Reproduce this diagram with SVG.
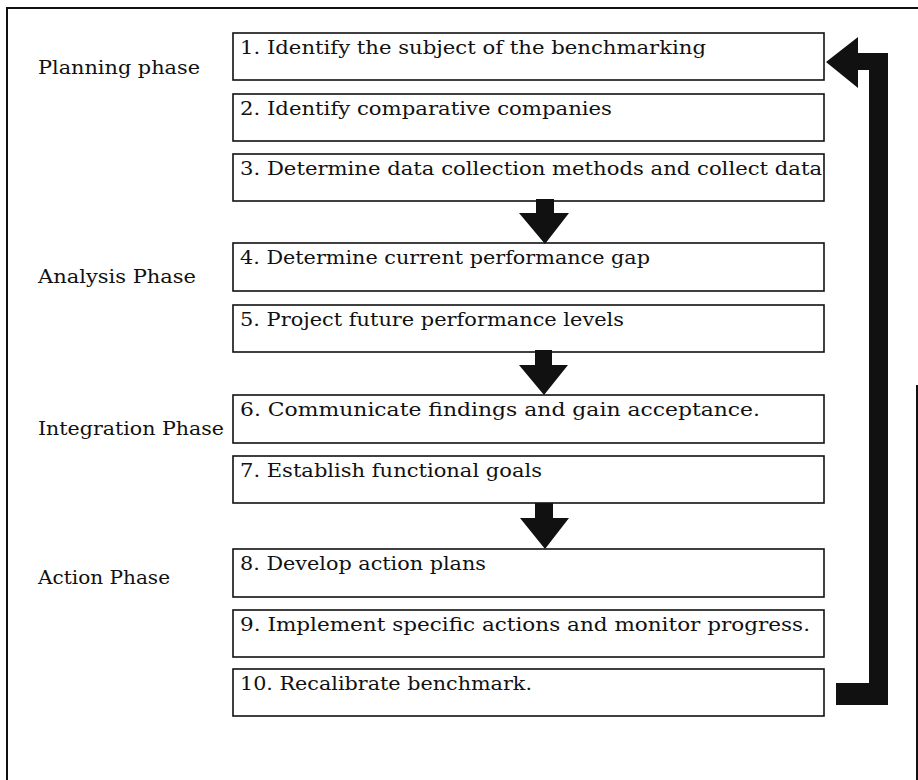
<svg xmlns="http://www.w3.org/2000/svg" width="918" height="780" viewBox="0 0 918 780">
  <style>
    .frame { fill: none; stroke: #111; stroke-width: 2; }
    .step rect { fill: #fff; stroke: #111; stroke-width: 1.6; }
    .step text, .phase { font-family: "DejaVu Serif", "Liberation Serif", serif; font-size: 18px; fill: #111; }
    .flow { fill: #111; }
  </style>

  <rect width="918" height="780" fill="#fff"/>

  <!-- outer frame -->
  <path class="frame" d="M7,780 V8 H918 M917,385 V780"/>

  <!-- phase labels -->
  <g id="phase-planning"><text class="phase" x="38" y="74" textLength="162" lengthAdjust="spacingAndGlyphs">Planning phase</text></g>
  <g id="phase-analysis"><text class="phase" x="38" y="283" textLength="158" lengthAdjust="spacingAndGlyphs">Analysis Phase</text></g>
  <g id="phase-integration"><text class="phase" x="38" y="435" textLength="186" lengthAdjust="spacingAndGlyphs">Integration Phase</text></g>
  <g id="phase-action"><text class="phase" x="38" y="584" textLength="132" lengthAdjust="spacingAndGlyphs">Action Phase</text></g>

  <!-- process steps -->
  <g id="step1" class="step"><rect x="233" y="33" width="591" height="47"/><text x="240" y="54" textLength="466" lengthAdjust="spacingAndGlyphs">1. Identify the subject of the benchmarking</text></g>
  <g id="step2" class="step"><rect x="233" y="94" width="591" height="47"/><text x="240" y="115" textLength="372" lengthAdjust="spacingAndGlyphs">2. Identify comparative companies</text></g>
  <g id="step3" class="step"><rect x="233" y="154" width="591" height="47"/><text x="240" y="175" textLength="582" lengthAdjust="spacingAndGlyphs">3. Determine data collection methods and collect data</text></g>
  <g id="step4" class="step"><rect x="233" y="243" width="591" height="48"/><text x="240" y="264" textLength="410" lengthAdjust="spacingAndGlyphs">4. Determine current performance gap</text></g>
  <g id="step5" class="step"><rect x="233" y="305" width="591" height="47"/><text x="240" y="326" textLength="384" lengthAdjust="spacingAndGlyphs">5. Project future performance levels</text></g>
  <g id="step6" class="step"><rect x="233" y="395" width="591" height="48"/><text x="240" y="416" textLength="520" lengthAdjust="spacingAndGlyphs">6. Communicate findings and gain acceptance.</text></g>
  <g id="step7" class="step"><rect x="233" y="456" width="591" height="47"/><text x="240" y="477" textLength="302" lengthAdjust="spacingAndGlyphs">7. Establish functional goals</text></g>
  <g id="step8" class="step"><rect x="233" y="549" width="591" height="48"/><text x="240" y="570" textLength="246" lengthAdjust="spacingAndGlyphs">8. Develop action plans</text></g>
  <g id="step9" class="step"><rect x="233" y="610" width="591" height="47"/><text x="240" y="631" textLength="570" lengthAdjust="spacingAndGlyphs">9. Implement specific actions and monitor progress.</text></g>
  <g id="step10" class="step"><rect x="233" y="669" width="591" height="47"/><text x="240" y="690" textLength="292" lengthAdjust="spacingAndGlyphs">10. Recalibrate benchmark.</text></g>

  <!-- connectors: block arrows between phases and the feedback loop -->
  <g id="connectors">
    <polygon class="flow" points="536,199 554,199 554,213 569,213 545,244 519,213 536,213"/>
    <polygon class="flow" points="535,350 552,350 552,365 568,365 544,395 519,365 535,365"/>
    <polygon class="flow" points="535,503 553,503 553,518 569,518 545,549 520,518 535,518"/>
    <polygon class="flow" points="836,683 869,683 869,70 858,70 858,88 826,62 858,37 858,53 888,53 888,705 836,705"/>
  </g>
</svg>
